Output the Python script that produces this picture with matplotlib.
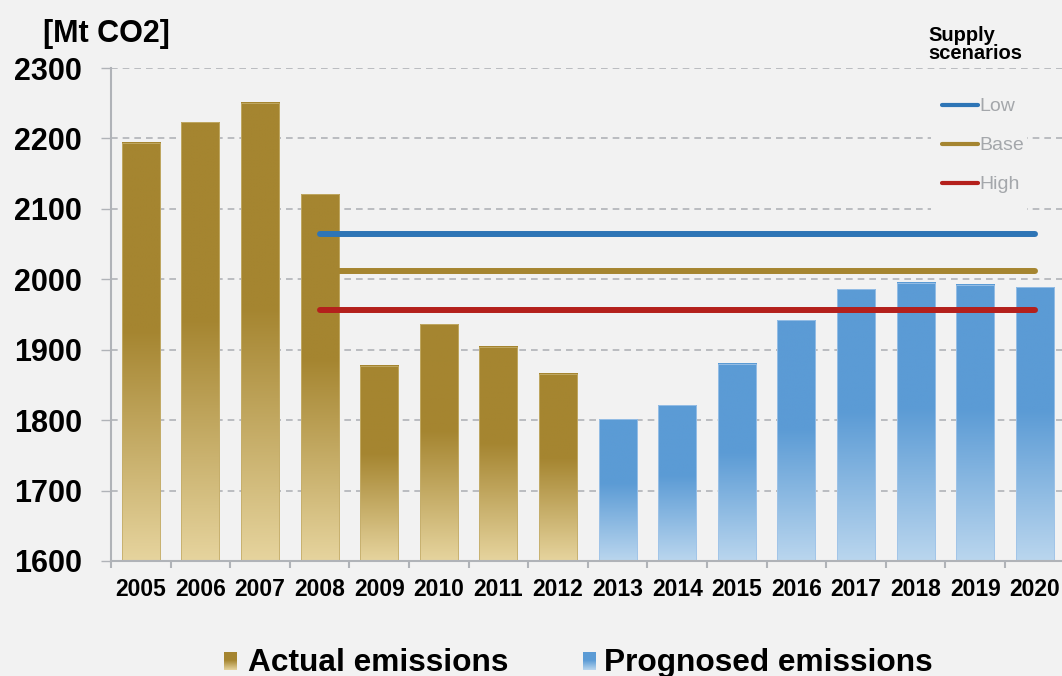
import numpy as np
import matplotlib
matplotlib.use("Agg")
import matplotlib.pyplot as plt
from matplotlib.colors import to_rgb
from matplotlib.lines import Line2D
from matplotlib.patches import Rectangle

# ---------------- data ----------------
years = [str(y) for y in range(2005, 2021)]
actual_years = years[:8]
actual_values = [2194, 2223, 2251, 2121, 1877, 1936, 1904, 1866]
prognosed_years = years[8:]
prognosed_values = [1801, 1821, 1880, 1942, 1986, 1995, 1992, 1989]
scenario_names = ["Low", "Base", "High"]
scenario_values = [2065, 2012, 1957]
scenario_start = "2008"
scenario_end = "2020"
y_ticks = [1600, 1700, 1800, 1900, 2000, 2100, 2200, 2300]
unit_label = "[Mt CO2]"
legend_title = "Supply\nscenarios"
series_labels = ["Actual emissions", "Prognosed emissions"]

# ---------------- style ----------------
BG = "#f2f2f2"
GOLD_DARK, GOLD_LIGHT = "#a58530", "#e6d49e"
BLUE_DARK, BLUE_LIGHT = "#5b9bd5", "#bad6ee"
SCEN_COLORS = ["#2e75b6", "#a58530", "#b4201c"]
GRID = "#b0b3b8"
W, H = 1062, 676

plt.rcParams["font.family"] = ["Liberation Sans", "DejaVu Sans"]


def gradient(dark, light, n=256):
    d, l = np.array(to_rgb(dark)), np.array(to_rgb(light))
    t = np.linspace(0, 1, n)
    f = np.clip((t - 0.45) / 0.55, 0, 1)[:, None]
    c = d * (1 - f) + l * f
    return c[:, None, :]


fig = plt.figure(figsize=(W / 100, H / 100), dpi=100, facecolor=BG)
ax = fig.add_axes([111 / W, 1 - 561 / H, 953.6 / W, (561 - 68) / H], facecolor=BG)

bar_w = 0.64
ymin = y_ticks[0]


def draw_bars(cats, vals, dark, light, edge):
    img = gradient(dark, light)
    for c, v in zip(cats, vals):
        x = years.index(c)
        ax.imshow(img, extent=(x - bar_w / 2, x + bar_w / 2, ymin, v),
                  aspect="auto", origin="upper", zorder=2, interpolation="bilinear")
        ax.add_patch(Rectangle((x - bar_w / 2, ymin), bar_w, v - ymin, fill=False,
                               edgecolor=edge, lw=0.6, zorder=2.1))


draw_bars(actual_years, actual_values, GOLD_DARK, GOLD_LIGHT, "#c4ad6a")
draw_bars(prognosed_years, prognosed_values, BLUE_DARK, BLUE_LIGHT, "#9fc3e8")

x0, x1 = years.index(scenario_start), years.index(scenario_end)
handles = []
for name, v, col in zip(scenario_names, scenario_values, SCEN_COLORS):
    ax.plot([x0, x1], [v, v], color=col, lw=4.3, solid_capstyle="round", zorder=3)
    handles.append(Line2D([], [], color=col, lw=3, solid_capstyle="round"))

ax.set_xlim(-0.5, len(years) - 0.5)
ax.set_ylim(y_ticks[0], y_ticks[-1])
ax.set_yticks(y_ticks)
ax.set_yticklabels([str(t) for t in y_ticks], fontsize=22, fontweight="bold")
ax.set_xticks(range(len(years)))
ax.set_xticklabels(years, fontsize=16.5, fontweight="bold")
ax.set_xticks(np.arange(-0.5, len(years), 1), minor=True)
ax.tick_params(axis="x", which="major", length=0, pad=12)
ax.tick_params(axis="x", which="minor", length=5, width=1.5, color=GRID, direction="out")
ax.tick_params(axis="y", length=7, width=1, color=GRID, pad=14)

ax.set_axisbelow(True)
ax.yaxis.grid(True, color=GRID, linestyle=(0, (4, 3)), lw=1.2)
for s in ["top", "right"]:
    ax.spines[s].set_visible(False)
for s in ["left", "bottom"]:
    ax.spines[s].set_color(GRID)
    ax.spines[s].set_linewidth(1.5)

fig.text(43 / W, 1 - 42 / H, unit_label, fontsize=22, fontweight="bold", va="baseline", ha="left")
fig.text(928 / W, 1 - 59 / H, legend_title, fontsize=14.5, fontweight="bold",
         va="baseline", ha="left", linespacing=0.95)

# background panel behind the scenario legend (hides gridlines there)
ax.add_patch(Rectangle((931 / W, 1 - 213 / H), 96 / W, 125 / H, transform=fig.transFigure,
                       facecolor=BG, edgecolor="none", zorder=1))

leg = ax.legend(handles, scenario_names, loc="upper left",
                bbox_to_anchor=(934 / W, 1 - 90 / H), bbox_transform=fig.transFigure,
                frameon=False, handlelength=1.85, handletextpad=0.1, labelspacing=1.1,
                borderpad=0.4, borderaxespad=0,
                prop={"family": ["Liberation Sans Narrow", "Liberation Sans"], "size": 14},
                labelcolor="#a4a7ab")

# bottom series legend
for (lbl, dark, light, sx, tx) in [(series_labels[0], GOLD_DARK, GOLD_LIGHT, 224, 248),
                                   (series_labels[1], BLUE_DARK, BLUE_LIGHT, 583, 604)]:
    sax = fig.add_axes([sx / W, 1 - 670 / H, 13 / W, 18 / H])
    sax.imshow(gradient(dark, light), aspect="auto", interpolation="bilinear")
    sax.axis("off")
    fig.text(tx / W, 1 - 671 / H, lbl, fontsize=22.8, fontweight="bold", va="baseline", ha="left")

fig.savefig("out.png", dpi=100, facecolor=BG)
